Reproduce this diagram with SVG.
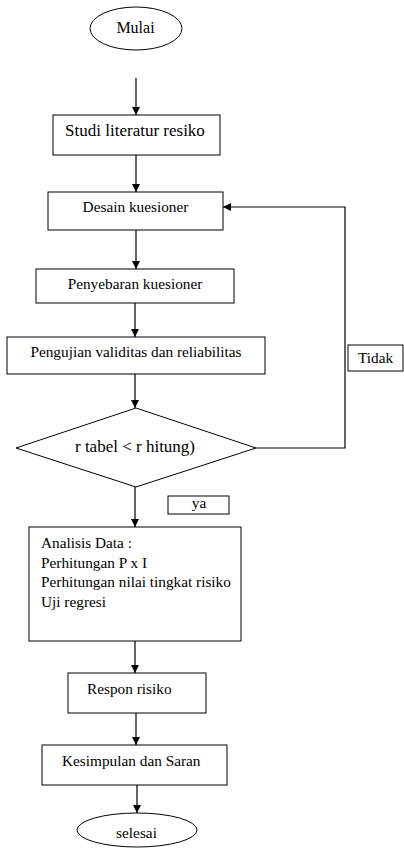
<svg xmlns="http://www.w3.org/2000/svg" width="404" height="848" viewBox="0 0 404 848">
<style>
.s{fill:#fff;stroke:#000;stroke-width:1}
.c{fill:none;stroke:#000;stroke-width:1.2}
</style>
<defs>
<marker id="ah" markerUnits="userSpaceOnUse" markerWidth="9" markerHeight="9" refX="8" refY="4" orient="auto">
<path d="M0,0 L8,4 L0,8 z" fill="#000"/>
</marker>
</defs>
<rect width="404" height="848" fill="#fff"/>
<g id="connectors">
<line class="c" x1="136" y1="78" x2="136" y2="115" marker-end="url(#ah)"/>
<line class="c" x1="136" y1="155" x2="136" y2="192" marker-end="url(#ah)"/>
<line class="c" x1="136" y1="230" x2="136" y2="269" marker-end="url(#ah)"/>
<line class="c" x1="135" y1="303" x2="135" y2="337" marker-end="url(#ah)"/>
<line class="c" x1="135" y1="374" x2="135" y2="408" marker-end="url(#ah)"/>
<line class="c" x1="135" y1="487" x2="135" y2="527" marker-end="url(#ah)"/>
<line class="c" x1="135" y1="641" x2="135" y2="673" marker-end="url(#ah)"/>
<line class="c" x1="136" y1="713" x2="136" y2="745" marker-end="url(#ah)"/>
<line class="c" x1="137" y1="785" x2="137" y2="813" marker-end="url(#ah)"/>
<polyline class="c" points="256,448 345,448 345,207 223,207" marker-end="url(#ah)"/>
</g>
<g font-family="Liberation Serif, Times New Roman, serif" font-size="15.3" fill="#000">
<g id="mulai">
<ellipse class="s" cx="136" cy="28.5" rx="46" ry="21.5"/>
<text x="135.5" y="33" text-anchor="middle" font-size="16">Mulai</text>
</g>
<g id="studi">
<rect class="s" x="53" y="115" width="167" height="40"/>
<text x="135" y="136" text-anchor="middle" font-size="17">Studi literatur resiko</text>
</g>
<g id="desain">
<rect class="s" x="48" y="192" width="175" height="38"/>
<text x="135.5" y="212" text-anchor="middle">Desain kuesioner</text>
</g>
<g id="penyebaran">
<rect class="s" x="36" y="269" width="198" height="34"/>
<text x="135" y="289" text-anchor="middle">Penyebaran kuesioner</text>
</g>
<g id="pengujian">
<rect class="s" x="7" y="337" width="258" height="37"/>
<text x="136" y="357" text-anchor="middle">Pengujian validitas dan reliabilitas</text>
</g>
<g id="keputusan">
<polygon class="s" points="136,408 256,448 136,487 16,448"/>
<text x="135" y="452" text-anchor="middle" font-size="17">r tabel &lt; r hitung)</text>
</g>
<g id="tidak">
<rect class="s" x="348" y="345" width="55" height="26"/>
<text x="358" y="363">Tidak</text>
</g>
<g id="ya">
<rect class="s" x="168" y="496" width="61" height="18"/>
<text x="199" y="508" text-anchor="middle">ya</text>
</g>
<g id="analisis">
<rect class="s" x="29" y="527" width="212" height="114"/>
<text x="41" y="548">Analisis Data :</text>
<text x="41" y="567.5">Perhitungan P x I</text>
<text x="41" y="587">Perhitungan nilai tingkat risiko</text>
<text x="41" y="606.5">Uji regresi</text>
</g>
<g id="respon">
<rect class="s" x="68" y="673" width="138" height="40"/>
<text x="87" y="694">Respon risiko</text>
</g>
<g id="kesimpulan">
<rect class="s" x="42" y="745" width="185" height="40"/>
<text x="62" y="766">Kesimpulan dan Saran</text>
</g>
<g id="selesai">
<ellipse class="s" cx="137" cy="830" rx="60" ry="17"/>
<text x="136.5" y="838" text-anchor="middle">selesai</text>
</g>
</g>
</svg>
